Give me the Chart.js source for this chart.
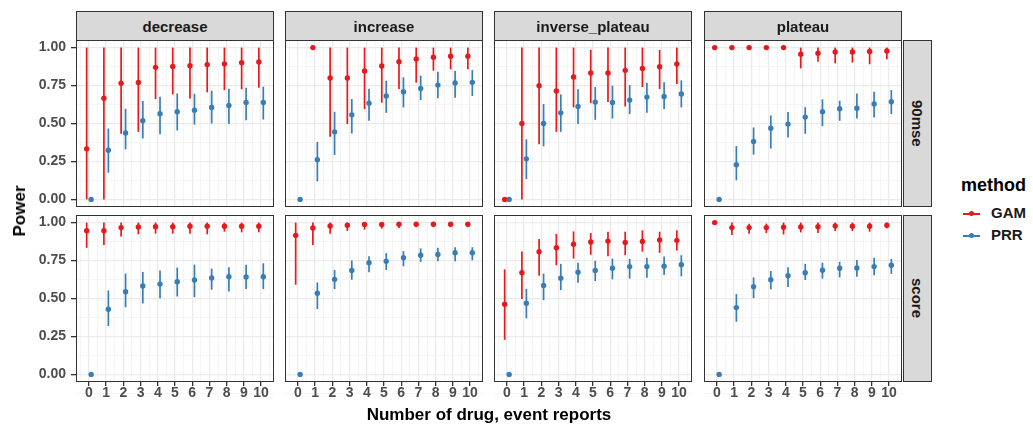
<!DOCTYPE html>
<html>
<head>
<meta charset="utf-8">
<script src="https://cdn.jsdelivr.net/npm/chart.js@4.4.1/dist/chart.umd.min.js"></script>
<style>
  html, body { margin: 0; padding: 0; background: #fff; }
  #wrap { position: relative; width: 1033px; height: 427px; overflow: hidden; font-family: "Liberation Sans", Arial, sans-serif; }
  #wrap canvas { position: absolute; }
  .strip { position: absolute; box-sizing: border-box; background: #D9D9D9; border: 1px solid #333; color: #1A1A1A;
           font-weight: bold; font-size: 15px; display: flex; align-items: center; justify-content: center; }
  .strip.side { writing-mode: vertical-rl; }
  .title { position: absolute; font-weight: bold; font-size: 17px; color: #000; white-space: nowrap; }
  #legend { position: absolute; left: 961px; top: 175px; }
  #legend .ltitle { font-weight: bold; font-size: 18px; color: #000; margin-bottom: 6px; }
  #legend .item { position: relative; height: 22px; line-height: 22px; padding-left: 30px; font-weight: bold; font-size: 15px; color: #1A1A1A; }
  #legend .key { position: absolute; left: 2px; top: 11px; width: 17px; height: 1.6px; }
  #legend .key i { position: absolute; left: 6px; top: -1.7px; width: 5px; height: 5px; border-radius: 50%; }
</style>
</head>
<body>
<div id="wrap"></div>
<script>
// facets and axis ticks
var reports = [ 0, 1, 2, 3, 4, 5, 6, 7, 8, 9, 10 ];
var colFacets = [ "decrease", "increase", "inverse_plateau", "plateau" ];
var rowFacets = [ "90mse", "score" ];
var methods = [ "GAM", "PRR" ];
var yTicks = [ 0, 0.25, 0.5, 0.75, 1 ];
var xTicks = [ 0, 1, 2, 3, 4, 5, 6, 7, 8, 9, 10 ];

// each row: [ power, lower, upper ] for 0..10 reports
var gam_90mse_decrease = [ [ 0.333, 0, 1 ], [ 0.667, 0, 1 ], [ 0.765, 0.432, 1 ], [ 0.77, 0.445, 1 ], [ 0.87, 0.661, 1 ], [ 0.875, 0.692, 1 ],
  [ 0.881, 0.665, 1 ], [ 0.888, 0.705, 1 ], [ 0.893, 0.72, 1 ], [ 0.9, 0.725, 1 ], [ 0.905, 0.736, 1 ] ];
var prr_90mse_decrease = [ [ 0, 0, 0 ], [ 0.324, 0.176, 0.467 ], [ 0.438, 0.33, 0.597 ], [ 0.518, 0.401, 0.648 ], [ 0.564, 0.43, 0.676 ], [ 0.577, 0.454, 0.698 ],
  [ 0.588, 0.493, 0.696 ], [ 0.606, 0.5, 0.716 ], [ 0.619, 0.496, 0.729 ], [ 0.639, 0.522, 0.736 ], [ 0.639, 0.526, 0.742 ] ];

var gam_90mse_increase = [ null, [ 1, 1, 1 ], [ 0.8, 0.412, 1 ], [ 0.8, 0.496, 1 ], [ 0.846, 0.595, 1 ], [ 0.879, 0.637, 1 ],
  [ 0.907, 0.727, 1 ], [ 0.925, 0.769, 1 ], [ 0.936, 0.848, 1 ], [ 0.943, 0.857, 1 ], [ 0.943, 0.857, 1 ] ];
var prr_90mse_increase = [ [ 0, 0, 0 ], [ 0.262, 0.119, 0.379 ], [ 0.445, 0.293, 0.577 ], [ 0.557, 0.434, 0.661 ], [ 0.634, 0.518, 0.729 ], [ 0.681, 0.57, 0.782 ],
  [ 0.709, 0.606, 0.804 ], [ 0.731, 0.654, 0.815 ], [ 0.753, 0.667, 0.841 ], [ 0.767, 0.67, 0.846 ], [ 0.771, 0.681, 0.852 ] ];

var gam_90mse_inverse = [ [ 0, 0, 0 ], [ 0.5, 0, 1 ], [ 0.749, 0.363, 1 ], [ 0.714, 0.445, 1 ], [ 0.806, 0.606, 1 ], [ 0.833, 0.634, 0.985 ],
  [ 0.833, 0.641, 1 ], [ 0.85, 0.612, 1 ], [ 0.863, 0.74, 1 ], [ 0.874, 0.727, 0.985 ], [ 0.892, 0.76, 1 ] ];
var prr_90mse_inverse = [ [ 0, 0, 0 ], [ 0.267, 0.134, 0.396 ], [ 0.5, 0.35, 0.628 ], [ 0.57, 0.445, 0.692 ], [ 0.612, 0.496, 0.725 ], [ 0.641, 0.524, 0.74 ],
  [ 0.639, 0.533, 0.749 ], [ 0.654, 0.562, 0.753 ], [ 0.674, 0.57, 0.769 ], [ 0.678, 0.595, 0.771 ], [ 0.694, 0.606, 0.784 ] ];

var gam_90mse_plateau = [ [ 1, 1, 1 ], [ 1, 1, 1 ], [ 1, 1, 1 ], [ 1, 1, 1 ], [ 1, 1, 1 ], [ 0.956, 0.863, 1 ],
  [ 0.963, 0.907, 1 ], [ 0.971, 0.896, 1 ], [ 0.971, 0.901, 1 ], [ 0.974, 0.89, 1 ], [ 0.978, 0.923, 1 ] ];
var prr_90mse_plateau = [ [ 0, 0, 0 ], [ 0.229, 0.126, 0.352 ], [ 0.381, 0.295, 0.474 ], [ 0.469, 0.335, 0.553 ], [ 0.496, 0.407, 0.575 ], [ 0.542, 0.432, 0.608 ],
  [ 0.577, 0.482, 0.659 ], [ 0.597, 0.518, 0.65 ], [ 0.601, 0.533, 0.698 ], [ 0.628, 0.54, 0.709 ], [ 0.643, 0.562, 0.72 ] ];

var gam_score_decrease = [ [ 0.947, 0.834, 1 ], [ 0.947, 0.852, 1 ], [ 0.967, 0.909, 1 ], [ 0.971, 0.923, 1 ], [ 0.973, 0.927, 1 ], [ 0.973, 0.927, 1 ],
  [ 0.976, 0.927, 1 ], [ 0.976, 0.923, 1 ], [ 0.976, 0.94, 1 ], [ 0.976, 0.936, 1 ], [ 0.976, 0.936, 1 ] ];
var prr_score_decrease = [ [ 0, 0, 0 ], [ 0.429, 0.319, 0.553 ], [ 0.544, 0.442, 0.664 ], [ 0.582, 0.467, 0.675 ], [ 0.595, 0.502, 0.684 ], [ 0.611, 0.513, 0.704 ],
  [ 0.622, 0.509, 0.723 ], [ 0.635, 0.558, 0.697 ], [ 0.644, 0.546, 0.706 ], [ 0.642, 0.562, 0.723 ], [ 0.644, 0.562, 0.732 ] ];

var gam_score_increase = [ [ 0.916, 0.591, 1 ], [ 0.965, 0.852, 1 ], [ 0.978, 0.927, 1 ], [ 0.982, 0.945, 1 ], [ 0.987, 0.954, 1 ], [ 0.987, 0.96, 1 ],
  [ 0.989, 0.965, 1 ], [ 0.989, 0.97, 1 ], [ 0.989, 0.97, 1 ], [ 0.989, 0.97, 1 ], [ 0.989, 0.97, 1 ] ];
var prr_score_increase = [ [ 0, 0, 0 ], [ 0.535, 0.431, 0.606 ], [ 0.626, 0.562, 0.688 ], [ 0.684, 0.624, 0.75 ], [ 0.735, 0.673, 0.779 ], [ 0.746, 0.688, 0.799 ],
  [ 0.768, 0.712, 0.812 ], [ 0.785, 0.741, 0.83 ], [ 0.79, 0.746, 0.834 ], [ 0.801, 0.746, 0.838 ], [ 0.801, 0.752, 0.838 ] ];

var gam_score_inverse = [ [ 0.462, 0.228, 0.692 ], [ 0.67, 0.496, 0.81 ], [ 0.808, 0.65, 0.892 ], [ 0.834, 0.719, 0.925 ], [ 0.858, 0.763, 0.942 ], [ 0.872, 0.788, 0.931 ],
  [ 0.878, 0.779, 0.94 ], [ 0.869, 0.785, 0.94 ], [ 0.876, 0.808, 0.949 ], [ 0.885, 0.801, 0.94 ], [ 0.883, 0.816, 0.949 ] ];
var prr_score_inverse = [ [ 0, 0, 0 ], [ 0.469, 0.369, 0.564 ], [ 0.586, 0.489, 0.664 ], [ 0.633, 0.555, 0.728 ], [ 0.673, 0.604, 0.735 ], [ 0.684, 0.615, 0.748 ],
  [ 0.699, 0.626, 0.763 ], [ 0.71, 0.631, 0.761 ], [ 0.71, 0.637, 0.768 ], [ 0.712, 0.655, 0.777 ], [ 0.723, 0.646, 0.785 ] ];

var gam_score_plateau = [ [ 1, 1, 1 ], [ 0.967, 0.918, 1 ], [ 0.967, 0.927, 0.993 ], [ 0.967, 0.931, 0.993 ], [ 0.969, 0.922, 1 ], [ 0.971, 0.935, 1 ],
  [ 0.973, 0.931, 1 ], [ 0.978, 0.945, 1 ], [ 0.976, 0.945, 1 ], [ 0.976, 0.94, 1 ], [ 0.982, 0.962, 1 ] ];
var prr_score_plateau = [ [ 0, 0, 0 ], [ 0.44, 0.347, 0.529 ], [ 0.577, 0.502, 0.639 ], [ 0.624, 0.56, 0.681 ], [ 0.65, 0.575, 0.706 ], [ 0.67, 0.622, 0.728 ],
  [ 0.686, 0.631, 0.735 ], [ 0.699, 0.639, 0.741 ], [ 0.701, 0.644, 0.754 ], [ 0.71, 0.653, 0.768 ], [ 0.719, 0.662, 0.761 ] ];

var panelData = [
  [ [ gam_90mse_decrease, prr_90mse_decrease ], [ gam_90mse_increase, prr_90mse_increase ],
    [ gam_90mse_inverse, prr_90mse_inverse ], [ gam_90mse_plateau, prr_90mse_plateau ] ],
  [ [ gam_score_decrease, prr_score_decrease ], [ gam_score_increase, prr_score_increase ],
    [ gam_score_inverse, prr_score_inverse ], [ gam_score_plateau, prr_score_plateau ] ]
];

var colours = [ "#E41A1C", "#377EB8" ];
var dodge = [ -0.13, 0.13 ];

// layout of the facet grid
var colLeft = [ 76, 285, 494, 704 ];
var rowTop = [ 40, 215 ];
var panelW = 198, panelH = 167;
var yAxisW = 76, xAxisH = 34;

Chart.defaults.font.family = '"Liberation Sans", Arial, sans-serif';
Chart.defaults.font.weight = 'bold';

var wrap = document.getElementById( "wrap" );

// vertical error bars under the points
var errorBars = {
  id: 'errorBars',
  beforeDatasetsDraw: function ( chart )
  {
    var c = chart.ctx, xs = chart.scales.x, ys = chart.scales.y, a = chart.chartArea;
    c.save();
    c.beginPath();
    c.rect( a.left, a.top, a.right - a.left, a.bottom - a.top );
    c.clip();
    chart.data.datasets.forEach( function ( ds )
    {
      c.strokeStyle = ds.backgroundColor;
      c.lineWidth = 1.7;
      ds.data.forEach( function ( p )
      {
        if ( p.hi === p.lo ) return;
        var px = xs.getPixelForValue( p.x );
        c.beginPath();
        c.moveTo( px, ys.getPixelForValue( p.lo ) );
        c.lineTo( px, ys.getPixelForValue( p.hi ) );
        c.stroke();
      } );
    } );
    c.restore();
  }
};

// panel frame drawn on top
var panelBorder = {
  id: 'panelBorder',
  afterDraw: function ( chart )
  {
    var c = chart.ctx, a = chart.chartArea;
    c.save();
    c.strokeStyle = '#333333';
    c.lineWidth = 1;
    c.strokeRect( a.left + 0.5, a.top + 0.5, a.right - a.left - 1, a.bottom - a.top - 1 );
    c.restore();
  }
};

function toPoints( rows, shift )
{
  var pts = [];
  rows.forEach( function ( r, i )
  {
    if ( r ) pts.push( { x: reports[ i ] + shift, y: r[ 0 ], lo: r[ 1 ], hi: r[ 2 ] } );
  } );
  return pts;
}

function withMinor( ticks, step )
{
  var out = [];
  ticks.forEach( function ( v ) { out.push( v - step ); out.push( v ); } );
  out.push( ticks[ ticks.length - 1 ] + step );
  return out;
}

var xAll = withMinor( xTicks, 0.5 );
var yAll = withMinor( yTicks, 0.125 );

function isMajor( list, v )
{
  return list.some( function ( t ) { return Math.abs( t - v ) < 1e-9; } );
}

function gridOpts( list, len )
{
  return {
    color: function ( ctx ) { return ctx.tick && isMajor( list, ctx.tick.value ) ? '#EBEBEB' : '#F2F2F2'; },
    lineWidth: function ( ctx ) { return ctx.tick && isMajor( list, ctx.tick.value ) ? 1.3 : 0.8; },
    tickColor: function ( ctx ) { return ctx.tick && isMajor( list, ctx.tick.value ) ? '#333333' : 'rgba(0,0,0,0)'; },
    tickLength: len
  };
}

function makePanel( r, c )
{
  var showY = c === 0, showX = r === 1;
  var yw = showY ? yAxisW : 0, xh = showX ? xAxisH : 0;
  var cv = document.createElement( "canvas" );
  cv.width = panelW + yw;
  cv.height = panelH + xh;
  cv.style.left = ( colLeft[ c ] - yw ) + "px";
  cv.style.top = rowTop[ r ] + "px";
  wrap.appendChild( cv );

  var xGrid = gridOpts( xTicks, 4 ), yGrid = gridOpts( yTicks, 5 );
  xGrid.drawTicks = showX;
  yGrid.drawTicks = showY;

  new Chart( cv.getContext( '2d' ), {
    type: 'scatter',
    plugins: [ errorBars, panelBorder ],
    data: {
      datasets: methods.map( function ( m, k )
      {
        return {
          label: m,
          data: toPoints( panelData[ r ][ c ][ k ], dodge[ k ] ),
          backgroundColor: colours[ k ],
          borderColor: colours[ k ],
          pointRadius: 2.7,
          pointHoverRadius: 2.7,
          pointBorderWidth: 0
        };
      } )
    },
    options: {
      responsive: false,
      animation: false,
      events: [],
      layout: { padding: 0, autoPadding: false },
      plugins: { legend: { display: false }, tooltip: { enabled: false } },
      scales: {
        x: {
          type: 'linear',
          min: -0.75,
          max: 10.75,
          afterBuildTicks: function ( s ) { s.ticks = xAll.map( function ( v ) { return { value: v }; } ); },
          afterFit: function ( s ) { s.height = xh; s.paddingLeft = 0; s.paddingRight = 0; },
          grid: xGrid,
          border: { display: false },
          ticks: {
            display: showX,
            autoSkip: false,
            maxRotation: 0,
            padding: 0,
            color: '#4D4D4D',
            font: { size: 14, weight: 'bold', lineHeight: 1 },
            callback: function ( v ) { return isMajor( xTicks, v ) ? String( Math.round( v ) ) : ''; }
          }
        },
        y: {
          type: 'linear',
          min: -0.05,
          max: 1.05,
          afterBuildTicks: function ( s ) { s.ticks = yAll.map( function ( v ) { return { value: v }; } ); },
          afterFit: function ( s ) { s.width = yw; s.paddingTop = 0; s.paddingBottom = 0; },
          grid: yGrid,
          border: { display: false },
          ticks: {
            display: showY,
            autoSkip: false,
            padding: 5,
            color: '#4D4D4D',
            font: { size: 14, weight: 'bold' },
            callback: function ( v ) { return isMajor( yTicks, v ) ? v.toFixed( 2 ) : ''; }
          }
        }
      }
    }
  } );
}

rowFacets.forEach( function ( rf, r )
{
  colFacets.forEach( function ( cf, c ) { makePanel( r, c ); } );
} );

// facet strips
colFacets.forEach( function ( name, c )
{
  var d = document.createElement( "div" );
  d.className = "strip";
  d.style.left = colLeft[ c ] + "px";
  d.style.top = "11px";
  d.style.width = panelW + "px";
  d.style.height = "30px";
  d.textContent = name;
  wrap.appendChild( d );
} );
rowFacets.forEach( function ( name, r )
{
  var d = document.createElement( "div" );
  d.className = "strip side";
  d.style.left = "903px";
  d.style.top = rowTop[ r ] + "px";
  d.style.width = "29px";
  d.style.height = panelH + "px";
  d.textContent = name;
  wrap.appendChild( d );
} );

// axis titles
var yTitle = document.createElement( "div" );
yTitle.className = "title";
yTitle.textContent = "Power";
yTitle.style.left = "20px";
yTitle.style.top = "211px";
yTitle.style.transform = "translate(-50%, -50%) rotate(-90deg)";
wrap.appendChild( yTitle );

var xTitle = document.createElement( "div" );
xTitle.className = "title";
xTitle.textContent = "Number of drug, event reports";
xTitle.style.left = "489px";
xTitle.style.top = "415px";
xTitle.style.transform = "translate(-50%, -50%)";
wrap.appendChild( xTitle );

// legend
var legend = document.createElement( "div" );
legend.id = "legend";
var lt = document.createElement( "div" );
lt.className = "ltitle";
lt.textContent = "method";
legend.appendChild( lt );
methods.forEach( function ( m, k )
{
  var it = document.createElement( "div" );
  it.className = "item";
  it.innerHTML = '<span class="key" style="background:' + colours[ k ] + '"><i style="background:' + colours[ k ] + '"></i></span>' + m;
  legend.appendChild( it );
} );
wrap.appendChild( legend );
</script>
</body>
</html>
